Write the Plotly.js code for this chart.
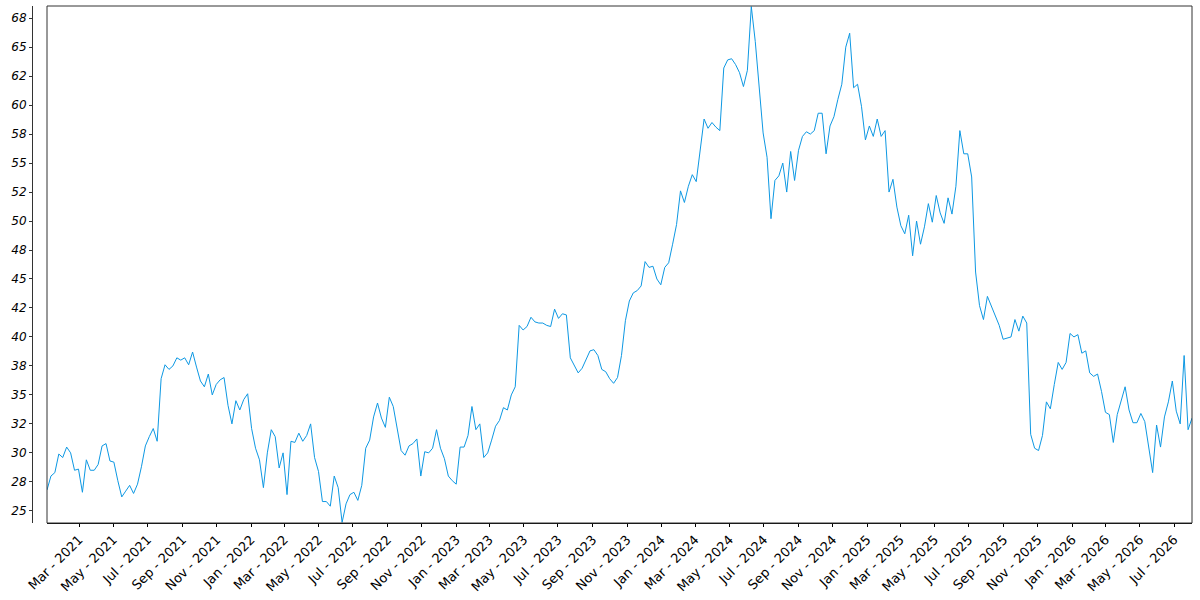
<!DOCTYPE html>
<html>
<head>
<meta charset="utf-8">
<script src="https://cdn.plot.ly/plotly-3.0.1.min.js"></script>
<style>
  html, body { margin: 0; padding: 0; background: #fff; }
  #chart { width: 1200px; height: 600px; }
</style>
</head>
<body>
<div id="chart"></div>
<script>
// weekly closes, first week starts 2021-01-03
START_DATE = "2021-01-03";

var closes = [
    26.8, 28.0, 28.3, 29.9, 29.6, 30.5, 30.0, 28.5, 28.6, 26.6,
    29.4, 28.5, 28.5, 29.0, 30.6, 30.8, 29.3, 29.2, 27.6, 26.2,
    26.7, 27.2, 26.5, 27.3, 28.8, 30.6, 31.4, 32.1, 31.0, 36.4,
    37.6, 37.2, 37.5, 38.2, 38.0, 38.2, 37.6, 38.7, 37.4, 36.2,
    35.7, 36.8, 35.0, 35.9, 36.3, 36.5, 34.1, 32.5, 34.5, 33.7,
    34.6, 35.1, 32.1, 30.4, 29.4, 27.0, 30.0, 32.0, 31.4, 28.7,
    30.0, 26.4, 31.0, 30.9, 31.7, 31.0, 31.5, 32.5, 29.6, 28.4,
    25.8, 25.8, 25.4, 28.0, 27.0, 24.0, 25.6, 26.4, 26.6, 25.9,
    27.2, 30.4, 31.1, 33.1, 34.3, 33.0, 32.2, 34.8, 34.0, 32.0,
    30.2, 29.8, 30.6, 30.8, 31.2, 28.0, 30.1, 30.0, 30.4,
    32.0, 30.4, 29.5, 28.0, 27.6, 27.3, 30.5, 30.5, 31.5, 34.0,
    32.0, 32.5, 29.6, 30.0, 31.1, 32.3, 32.8, 33.9, 33.7, 35.0,
    35.7, 41.0, 40.6, 40.9, 41.7, 41.3, 41.2, 41.2, 41.0, 40.9,
    42.4, 41.6, 42.0, 41.9, 38.2, 37.5, 36.9, 37.3, 38.0, 38.8,
    38.9, 38.4, 37.2, 37.0, 36.4, 36.0, 36.5, 38.4, 41.4,
    43.1, 43.8, 44.0, 44.4, 46.5, 46.0, 46.1, 45.0, 44.5, 46.0,
    46.4, 48.0, 49.7, 52.6, 51.6, 53.0, 54.0, 53.4, 56.0, 58.8,
    58.0, 58.5, 58.1, 57.8, 63.2, 63.9, 64.0, 63.5, 62.8, 61.6,
    63.0, 68.5, 65.5, 61.6, 57.6, 55.5, 50.2, 53.5, 53.9, 55.0,
    52.5, 56.0, 53.5, 56.1, 57.3, 57.7, 57.5, 57.8, 59.3, 59.3,
    55.8, 58.2, 59.0, 60.5, 61.8, 65.0, 66.2, 61.5, 61.8, 59.9,
    57.0, 58.2, 57.3, 58.8, 57.3, 57.8, 52.5, 53.6, 51.2, 49.6,
    48.9, 50.5, 47.0, 50.0, 48.0, 49.5, 51.5, 49.9, 52.2, 50.7,
    49.8, 52.0, 50.6, 53.0, 57.8, 55.8, 55.8, 53.8, 45.6, 42.7,
    41.5, 43.5, 42.7, 41.9, 41.0, 39.8, 39.9, 40.0, 41.5,
    40.5, 41.8, 41.2, 31.6, 30.4, 30.2, 31.5, 34.4, 33.8, 35.9,
    37.8, 37.2, 37.8, 40.3, 40.0, 40.2, 38.6, 38.8, 36.9, 36.6,
    36.8, 35.3, 33.5, 33.3, 30.9, 33.3, 34.6, 35.7, 33.7, 32.6,
    32.6, 33.4, 32.7, 30.5, 28.3, 32.4, 30.5, 33.1, 34.4, 36.2,
    33.6, 32.5, 38.4, 32.0, 33.0
];

var yTickVals = [25, 27.5, 30, 32.5, 35, 37.5, 40, 42.5, 45, 47.5, 50, 52.5, 55, 57.5, 60, 62.5, 65, 67.5];
var yTickText = ["25", "28", "30", "32", "35", "38", "40", "42", "45", "48", "50", "52", "55", "58", "60", "62", "65", "68"];

function weekDates(start, n) {
    let out = []
    let t0 = new Date(start + "T00:00:00Z").getTime()
    for (let i = 0; i < n; i++) {
        out.push(new Date(t0 + i * 7 * 86400000).toISOString().slice(0, 10))
    }
    return out
}

var dates = weekDates(START_DATE, closes.length);

// y spine sits a bit left of the plot box
var X0 = 15 / 1160;

Plotly.newPlot("chart", [{
    x: dates,
    y: closes,
    type: "scatter",
    mode: "lines",
    hoverinfo: "none",
    line: { color: "#0d98e3", width: 1 }
}], {
    width: 1200,
    height: 600,
    showlegend: false,
    plot_bgcolor: "#fff",
    paper_bgcolor: "#fff",
    margin: { l: 32, r: 8, t: 6, b: 77, pad: 0 },
    font: { family: "DejaVu Sans", color: "#000" },
    xaxis: {
        type: "date",
        domain: [X0, 1],
        showgrid: false,
        zeroline: false,
        showline: true,
        linecolor: "#000",
        linewidth: 1,
        ticks: "outside",
        ticklen: 3,
        tickcolor: "#000",
        tick0: "2021-01-01",
        dtick: "M2",
        tickformat: "%b - %Y",
        tickangle: -45,
        tickfont: { size: 13, family: "DejaVu Sans", color: "#000" },
        automargin: false
    },
    yaxis: {
        anchor: "free",
        position: 0,
        range: [23.95, 68.55],
        showgrid: false,
        zeroline: false,
        showline: true,
        linecolor: "#333",
        linewidth: 1,
        ticks: "outside",
        ticklen: 3,
        tickcolor: "#333",
        tickvals: yTickVals,
        ticktext: yTickText,
        tickfont: { size: 12, family: "DejaVu Sans", color: "#000", style: "italic" },
        automargin: false
    },
    shapes: [{
        type: "rect",
        xref: "paper", yref: "paper",
        x0: X0, x1: 1, y0: 0, y1: 1,
        line: { color: "#333", width: 1 },
        fillcolor: "rgba(0,0,0,0)",
        layer: "above"
    }]
}, {
    displayModeBar: false,
    staticPlot: true
});
</script>
</body>
</html>
